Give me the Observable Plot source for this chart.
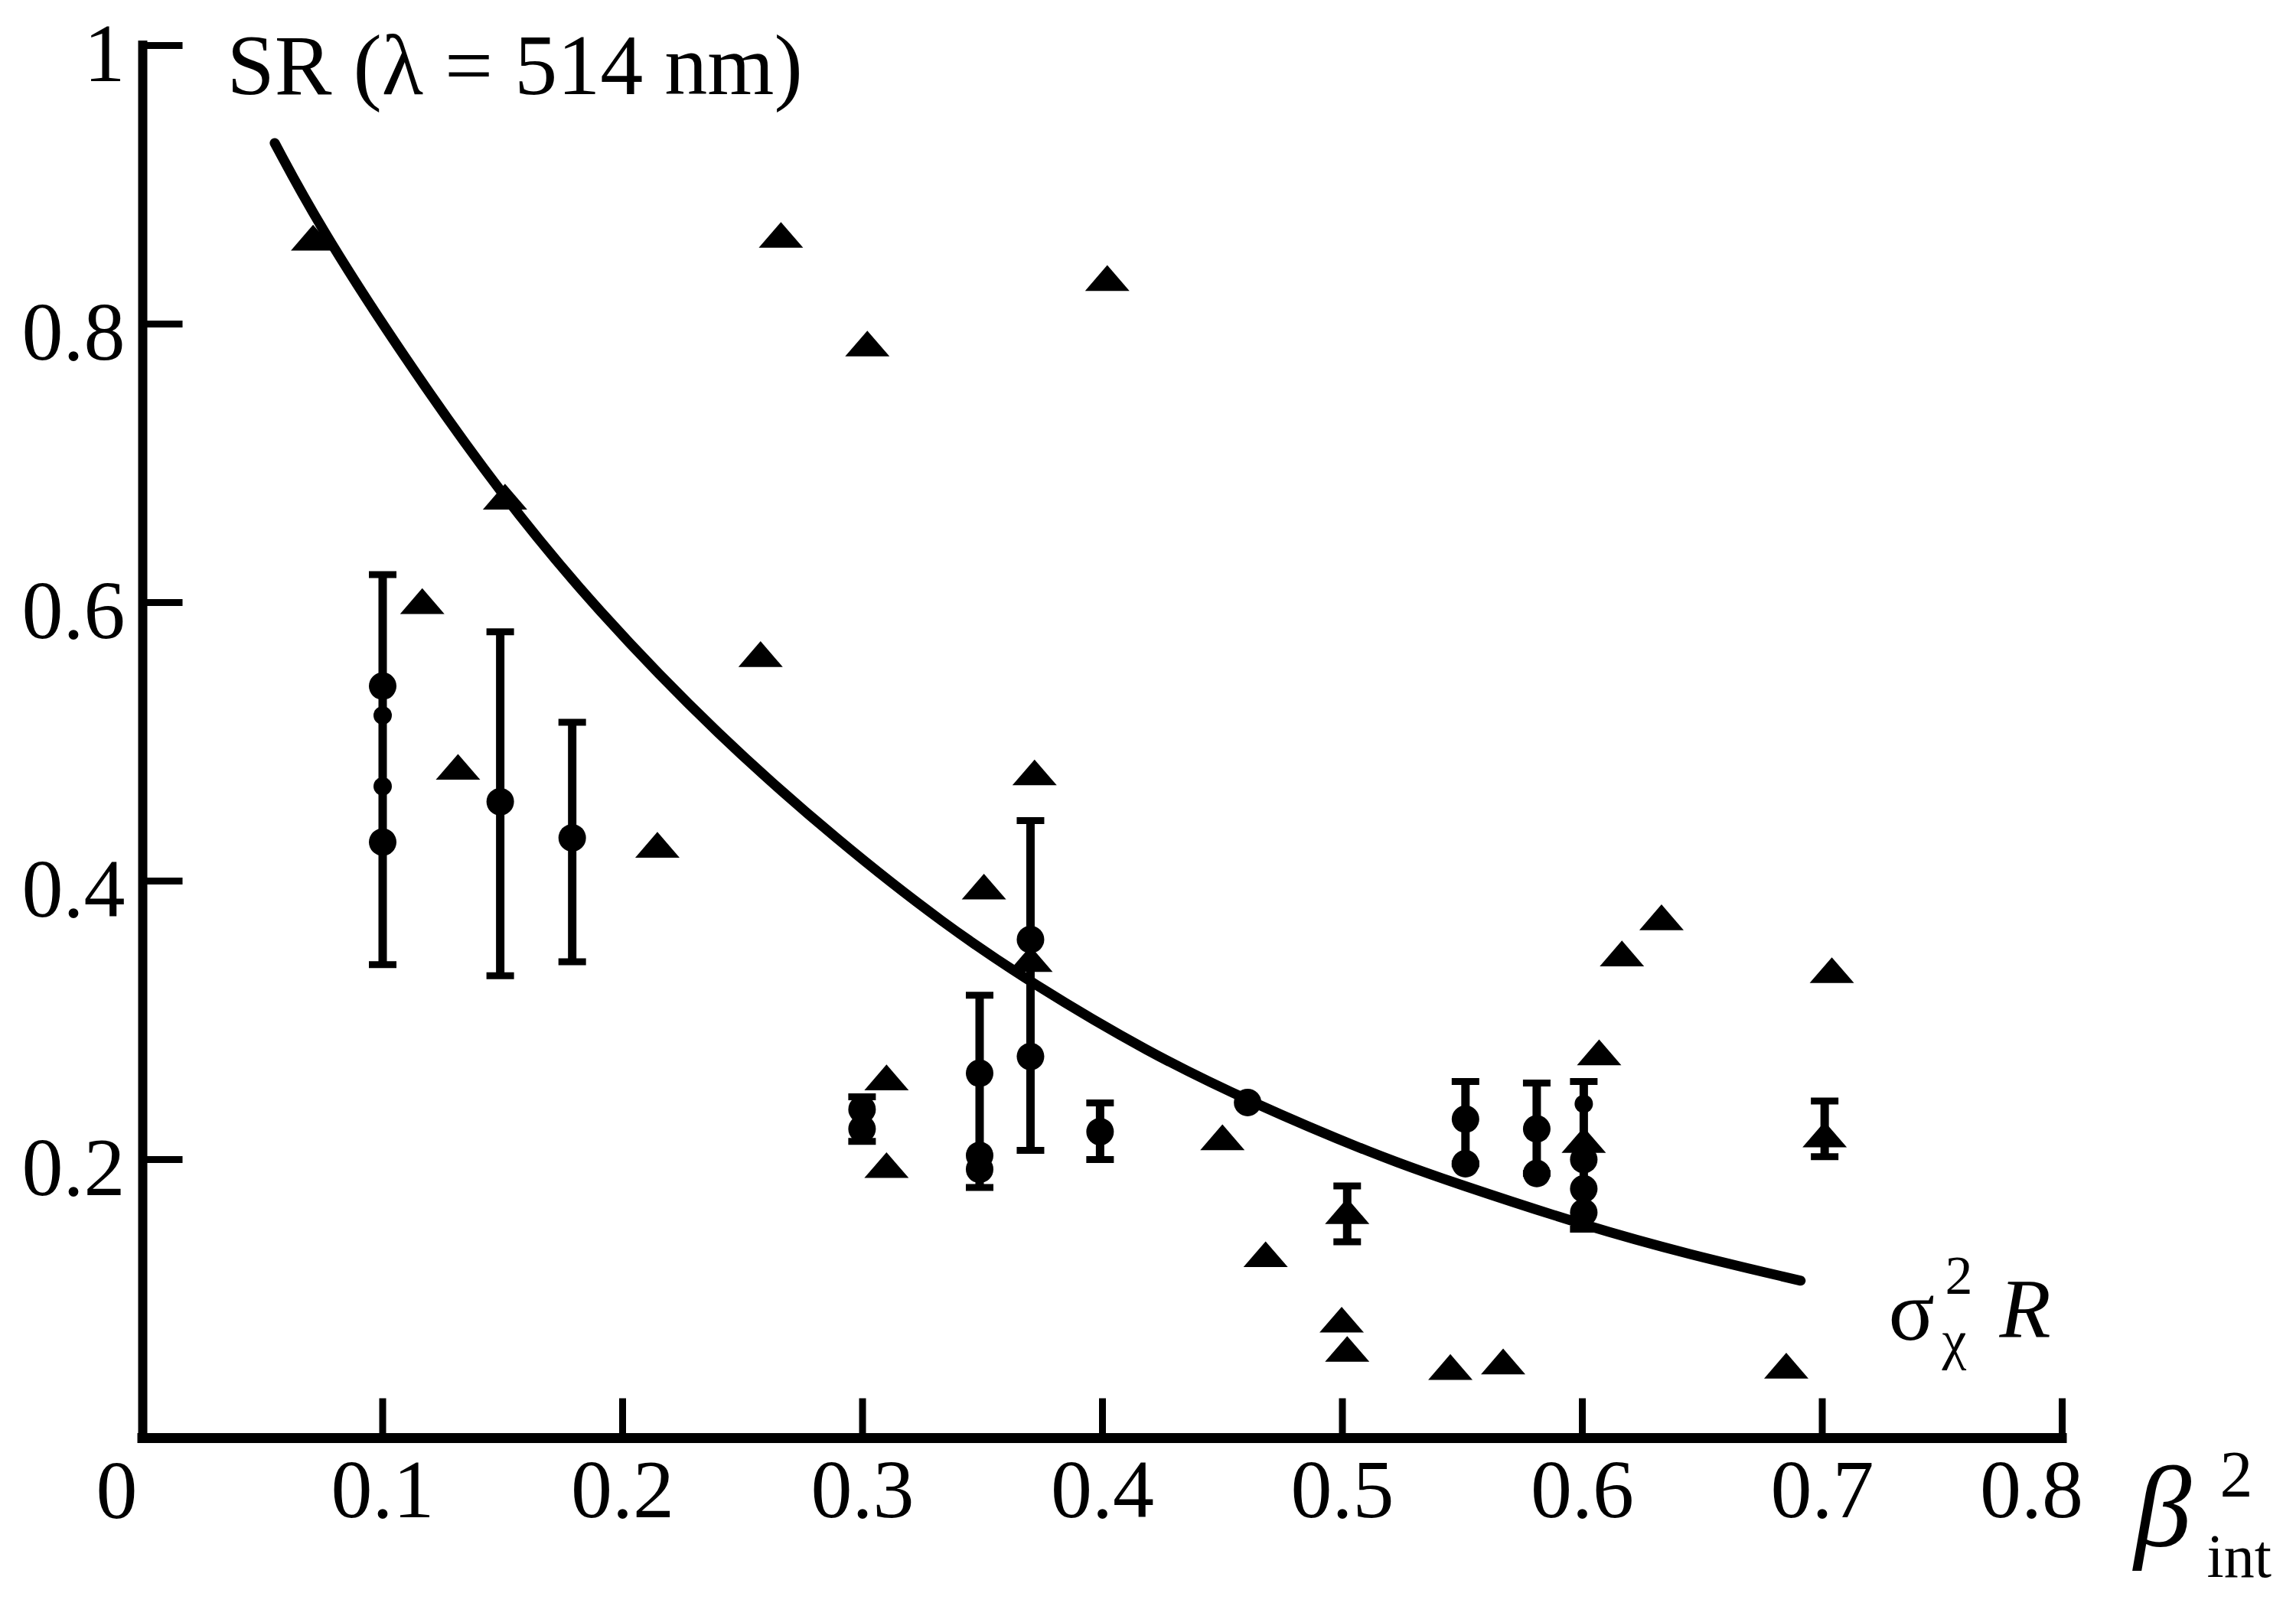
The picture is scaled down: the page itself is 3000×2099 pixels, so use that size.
<!DOCTYPE html>
<html><head><meta charset="utf-8">
<script src="https://cdn.jsdelivr.net/npm/d3@7"></script>
<script src="https://cdn.jsdelivr.net/npm/@observablehq/plot@0.6"></script>
<style>body{margin:0;background:#fff}</style>
</head><body><div id="chart"></div>
<script>
// ---- data ----
const xTicks = [0.1, 0.2, 0.3, 0.4, 0.5, 0.6, 0.7];
const xTickLabels = ["0.1", "0.2", "0.3", "0.4", "0.5", "0.6", "0.7"];
const xLastTick = [0.8];
const xLastTickLabel = ["0.8"];
const yTicks = [0.2, 0.4, 0.6, 0.8, 1];
const yTickLabels = ["0.2", "0.4", "0.6", "0.8", "1"];

// fitted curve (sigma_chi^2 R)
const curveX = [0.055, 0.073, 0.108, 0.150, 0.189, 0.240, 0.291, 0.334, 0.371, 0.419, 0.462, 0.514, 0.547, 0.602, 0.644, 0.691];
const curveY = [0.930, 0.872, 0.778, 0.676, 0.595, 0.504, 0.427, 0.369, 0.326, 0.277, 0.241, 0.203, 0.183, 0.152, 0.132, 0.113];

// triangles
const triX = [0.071, 0.266, 0.402, 0.302, 0.151, 0.1165, 0.1314, 0.2145, 0.2575, 0.3506, 0.3717, 0.370, 0.310, 0.310, 0.450, 0.468, 0.607, 0.6165, 0.633, 0.704, 0.4997, 0.502, 0.545, 0.567, 0.685, 0.6006, 0.502, 0.701];
const triY = [0.862, 0.864, 0.833, 0.786, 0.676, 0.601, 0.482, 0.426, 0.563, 0.396, 0.478, 0.344, 0.259, 0.196, 0.216, 0.132, 0.277, 0.348, 0.374, 0.336, 0.085, 0.064, 0.051, 0.055, 0.052, 0.214, 0.163, 0.218];

// filled circles
const circX = [0.100, 0.100, 0.149, 0.179, 0.2998, 0.2998, 0.3488, 0.3488, 0.3488, 0.370, 0.370, 0.399, 0.4605, 0.5513, 0.5513, 0.581, 0.581, 0.6006, 0.6006, 0.6006];
const circY = [0.540, 0.428, 0.457, 0.431, 0.236, 0.222, 0.262, 0.203, 0.193, 0.358, 0.274, 0.220, 0.241, 0.229, 0.197, 0.222, 0.190, 0.200, 0.179, 0.162];
// small circles
const smallX = [0.100, 0.100, 0.6006];
const smallY = [0.519, 0.468, 0.240];

// error bars
const errX    = [0.100, 0.149, 0.179, 0.2998, 0.3488, 0.370, 0.399, 0.502, 0.5513, 0.581, 0.6006, 0.701];
const errLow  = [0.340, 0.332, 0.342, 0.213, 0.180, 0.2066, 0.200, 0.141, 0.197, 0.190, 0.150, 0.202];
const errHigh = [0.620, 0.579, 0.514, 0.245, 0.318, 0.4434, 0.2407, 0.181, 0.256, 0.255, 0.256, 0.242];

// ---- build tables ----
const curve = curveX.map((x, i) => ({x, y: curveY[i]}));
const tris = triX.map((x, i) => ({x, y: triY[i]}));
const circs = circX.map((x, i) => ({x, y: circY[i]}));
const smalls = smallX.map((x, i) => ({x, y: smallY[i]}));
const errs = errX.map((x, i) => ({x, lo: errLow[i], hi: errHigh[i]}));
const caps = errs.flatMap(d => [{x: d.x, y: d.lo}, {x: d.x, y: d.hi}]);
const allXTicks = xTicks.concat(xLastTick);

const flatTriangle = {draw(ctx, size) {
  const s = Math.sqrt(size / Math.PI);
  ctx.moveTo(0, -0.58 * s); ctx.lineTo(s, 0.58 * s); ctx.lineTo(-s, 0.58 * s); ctx.closePath();
}};
const capShape = {draw(ctx, size) {
  const s = Math.sqrt(size / Math.PI);
  ctx.moveTo(-s, 0); ctx.lineTo(s, 0);
}};
const tickShape = {draw(ctx, l) { ctx.moveTo(0, 0); ctx.lineTo(0, -l); }};

const FS = 108;
const chart = Plot.plot({
  width: 3000, height: 2099,
  marginLeft: 186, marginRight: 306, marginTop: 59, marginBottom: 220,
  x: {domain: [0, 0.8]},
  y: {domain: [0, 1]},
  style: {fontFamily: "'Liberation Serif', 'Times New Roman', serif", background: "white", color: "black", overflow: "visible"},
  marks: [
    // axes lines
    Plot.ruleX([0], {x: d => d, y1: 0, y2: 1, stroke: "black", strokeWidth: 12, strokeLinecap: "square"}),
    Plot.ruleY([0], {y: d => d, x1: 0, x2: 0.8, stroke: "black", strokeWidth: 13, strokeLinecap: "square"}),
    // inner ticks
    Plot.vector(allXTicks, {x: d => d, y: 0, length: 52, rotate: 0, anchor: "start", shape: tickShape, stroke: "black", fill: "none", strokeWidth: 9, strokeLinecap: "butt"}),
    Plot.vector(yTicks, {x: 0, y: d => d, length: 52, rotate: 90, anchor: "start", shape: tickShape, stroke: "black", fill: "none", strokeWidth: 9, strokeLinecap: "butt"}),
    // tick labels
    Plot.axisX({ticks: xTicks, tickSize: 0, tickPadding: 27, tickFormat: (d) => xTickLabels[xTicks.indexOf(d)], fontSize: FS, label: null}),
    Plot.axisX({ticks: xLastTick, tickSize: 0, tickPadding: 27, dx: -40, tickFormat: (d) => xLastTickLabel[xLastTick.indexOf(d)], fontSize: FS, label: null}),
    Plot.axisY({ticks: yTicks, tickSize: 0, tickPadding: 23, dy: 12, tickFormat: (d) => yTickLabels[yTicks.indexOf(d)], fontSize: FS, label: null}),
    Plot.text(["0"], {frameAnchor: "bottom-left", dx: -34, dy: 104, lineAnchor: "bottom", textAnchor: "middle", fontSize: FS}),
    // curve
    Plot.line(curve, {x: "x", y: "y", curve: "basis", stroke: "black", strokeWidth: 13}),
    // error bars
    Plot.ruleX(errs, {x: "x", y1: "lo", y2: "hi", stroke: "black", strokeWidth: 11}),
    Plot.dot(caps, {x: "x", y: "y", r: 18, symbol: capShape, fill: "none", stroke: "black", strokeWidth: 9}),
    // markers
    Plot.dot(tris, {x: "x", y: "y", r: 29, symbol: flatTriangle, fill: "black", stroke: "none"}),
    Plot.dot(circs, {x: "x", y: "y", r: 18, fill: "black", stroke: "none"}),
    Plot.dot(smalls, {x: "x", y: "y", r: 12, fill: "black", stroke: "none"}),
    // title
    Plot.text(["SR (λ = 514 nm)"], {frameAnchor: "top-left", dx: 110, dy: 63, lineAnchor: "bottom", textAnchor: "start", fontSize: 112}),
    // curve label  σ²χ R
    Plot.text(["σ"], {frameAnchor: "bottom-right", dx: -227, dy: -129, lineAnchor: "bottom", textAnchor: "start", fontSize: 112}),
    Plot.text(["2"], {frameAnchor: "bottom-right", dx: -153, dy: -189, lineAnchor: "bottom", textAnchor: "start", fontSize: 72}),
    Plot.text(["χ"], {frameAnchor: "bottom-right", dx: -157, dy: -104, lineAnchor: "bottom", textAnchor: "start", fontSize: 72}),
    Plot.text(["R"], {frameAnchor: "bottom-right", dx: -82, dy: -132, lineAnchor: "bottom", textAnchor: "start", fontSize: 110, fontStyle: "italic"}),
    // x-axis label β²int
    Plot.text(["β"], {frameAnchor: "bottom-right", dx: 94, dy: 141, lineAnchor: "bottom", textAnchor: "start", fontSize: 150, fontStyle: "italic"}),
    Plot.text(["2"], {frameAnchor: "bottom-right", dx: 206, dy: 76, lineAnchor: "bottom", textAnchor: "start", fontSize: 86}),
    Plot.text(["int"], {frameAnchor: "bottom-right", dx: 189, dy: 181, lineAnchor: "bottom", textAnchor: "start", fontSize: 80})
  ]
});
document.getElementById("chart").appendChild(chart);
</script>
</body></html>
